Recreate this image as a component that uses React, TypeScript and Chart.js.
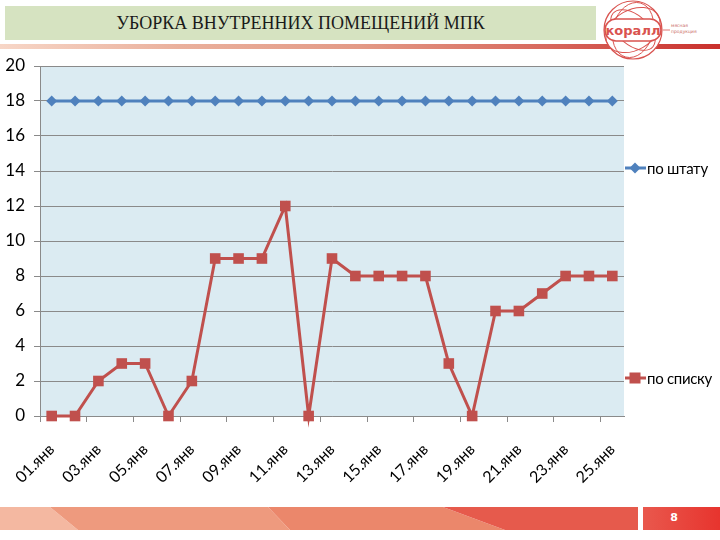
import React, { useEffect, useRef } from "react";
import { Chart, registerables } from "chart.js";

Chart.register(...registerables);

const titleText = "УБОРКА ВНУТРЕННИХ ПОМЕЩЕНИЙ МПК";
const pageNumber = "8";
const categories = [
  "01.янв", "02.янв", "03.янв", "04.янв", "05.янв", "06.янв", "07.янв", "08.янв", "09.янв",
  "10.янв", "11.янв", "12.янв", "13.янв", "14.янв", "15.янв", "16.янв", "17.янв", "18.янв",
  "19.янв", "20.янв", "21.янв", "22.янв", "23.янв", "24.янв", "25.янв",
];
const seriesNames = ["по штату", "по списку"];
const poShtatu = [18, 18, 18, 18, 18, 18, 18, 18, 18, 18, 18, 18, 18, 18, 18, 18, 18, 18, 18, 18, 18, 18, 18, 18, 18];
const poSpisku = [0, 0, 2, 3, 3, 0, 2, 9, 9, 9, 12, 0, 9, 8, 8, 8, 8, 3, 0, 6, 6, 7, 8, 8, 8];
const yMin = 0;
const yMax = 20;
const yStep = 2;

const BLUE = "#4f81bd";
const RED = "#c0504d";
const GRID = "#8a8a8a";
const FONT = "Lato, 'Noto Sans', sans-serif";

const plotBg = {
  id: "plotBg",
  beforeDraw(chart: any) {
    const { ctx, chartArea } = chart;
    ctx.save();
    ctx.fillStyle = "#dbebf2";
    ctx.fillRect(chartArea.left, chartArea.top, chartArea.right - chartArea.left, chartArea.bottom - chartArea.top);
    ctx.restore();
  },
};

export default function App() {
  const ref = useRef<HTMLCanvasElement>(null);

  useEffect(() => {
    const chart = new Chart(ref.current as HTMLCanvasElement, {
      type: "line",
      data: {
        labels: categories,
        datasets: [
          {
            label: seriesNames[0],
            data: poShtatu,
            borderColor: BLUE,
            backgroundColor: BLUE,
            borderWidth: 3,
            pointStyle: "rectRot",
            pointRadius: 5.5,
            pointBorderWidth: 0,
            tension: 0,
            clip: false,
          },
          {
            label: seriesNames[1],
            data: poSpisku,
            borderColor: RED,
            backgroundColor: RED,
            borderWidth: 3,
            pointStyle: "rect",
            pointRadius: 7.5,
            pointBorderWidth: 0,
            tension: 0,
            clip: false,
          },
        ] as any,
      },
      options: {
        animation: false,
        responsive: false,
        layout: { padding: { top: 12, right: 16, left: 0, bottom: 0 } },
        plugins: {
          legend: { display: false },
          tooltip: { enabled: false },
        },
        scales: {
          x: {
            type: "category",
            offset: true,
            grid: {
              offset: true,
              drawOnChartArea: false,
              drawTicks: true,
              tickLength: 6,
              color: (ctx: any) => (ctx.index % 2 === 0 ? GRID : "rgba(0,0,0,0)"),
            },
            border: { color: GRID, width: 1 },
            ticks: {
              autoSkip: false,
              maxRotation: 45,
              minRotation: 45,
              padding: 18,
              color: "#000",
              font: { size: 16, family: FONT },
              callback: (_v: any, i: number) => (i % 2 === 0 ? categories[i] : ""),
            },
            afterFit: (s: any) => {
              s.height = 100;
              s.paddingLeft = 0;
              s.paddingRight = 0;
            },
          },
          y: {
            min: yMin,
            max: yMax,
            grid: { color: GRID, tickLength: 6, lineWidth: 1 },
            border: { color: GRID, width: 1 },
            ticks: {
              stepSize: yStep,
              padding: 9,
              color: "#000",
              font: { size: 17, family: FONT },
            },
            afterFit: (s: any) => {
              s.width = 40;
              s.paddingTop = 0;
              s.paddingBottom = 0;
            },
          },
        },
      } as any,
      plugins: [plotBg],
    });
    return () => chart.destroy();
  }, []);

  const legendRows = [
    { name: seriesNames[0], color: BLUE, top: 158, marker: "diamond" },
    { name: seriesNames[1], color: RED, top: 368, marker: "square" },
  ];

  return (
    <div
      style={{
        position: "absolute",
        left: 0,
        top: 0,
        width: 720,
        height: 540,
        background: "#fff",
        overflow: "hidden",
        fontFamily: FONT,
      }}
    >
      {/* header accent line */}
      <div
        style={{
          position: "absolute",
          left: 0,
          top: 44,
          width: 720,
          height: 5,
          background: "linear-gradient(90deg, #f7d6c7 0%, #eab09c 25%, #e39a86 50%, #d86a5f 75%, #c9302c 100%)",
        }}
      />
      {/* title box */}
      <div
        style={{
          position: "absolute",
          left: 5,
          top: 6,
          width: 591,
          height: 34,
          background: "#d6e3c1",
          display: "flex",
          alignItems: "center",
          justifyContent: "center",
          fontFamily: "'Liberation Serif', 'DejaVu Serif', serif",
          fontSize: 18,
          color: "#1a1a1a",
        }}
      >
        {titleText}
      </div>
      {/* logo */}
      <svg style={{ position: "absolute", left: 596, top: 0 }} width={124} height={62}>
        <circle cx={37} cy={30} r={29} fill="#fff" stroke="#d9534f" strokeWidth={1.2} />
        <ellipse cx={37} cy={30} rx={29} ry={20} fill="none" stroke="#d9534f" strokeWidth={1} transform="rotate(-30 37 30)" />
        <ellipse cx={37} cy={30} rx={26} ry={15} fill="none" stroke="#d9534f" strokeWidth={1} transform="rotate(40 37 30)" />
        <ellipse cx={37} cy={30} rx={20} ry={28} fill="none" stroke="#d9534f" strokeWidth={0.9} transform="rotate(15 37 30)" />
        <rect x={9} y={19} width={56} height={22} rx={11} fill="#fff" stroke="#d9534f" strokeWidth={1.6} />
        <text x={37} y={35} textAnchor="middle" fontFamily="'DejaVu Sans', sans-serif" fontWeight="bold" fontSize={13} fill="#d9534f">
          коралл
        </text>
        <line x1={67} y1={30} x2={74} y2={30} stroke="#d9534f" strokeWidth={0.8} />
        <text x={75} y={27} fontFamily="'DejaVu Sans', sans-serif" fontSize={4.5} fill="#c96a63">
          мясная
        </text>
        <text x={75} y={33} fontFamily="'DejaVu Sans', sans-serif" fontSize={4.5} fill="#c96a63">
          продукция
        </text>
      </svg>

      <canvas
        ref={ref}
        width={640}
        height={462}
        style={{ position: "absolute", left: 0, top: 54, width: 640, height: 462 }}
      />

      {/* legend */}
      {legendRows.map((r) => (
        <div
          key={r.name}
          style={{ position: "absolute", left: 624, top: r.top, height: 20, display: "flex", alignItems: "center" }}
        >
          <svg width={23} height={20}>
            <line x1={1} y1={10} x2={22} y2={10} stroke={r.color} strokeWidth={3} />
            {r.marker === "diamond" ? (
              <polygon points="11,4.5 16.5,10 11,15.5 5.5,10" fill={r.color} />
            ) : (
              <rect x={5.5} y={4.5} width={11} height={11} fill={r.color} />
            )}
          </svg>
          <span style={{ fontSize: 15, color: "#000", whiteSpace: "nowrap", letterSpacing: -0.3 }}>{r.name}</span>
        </div>
      ))}

      {/* footer */}
      <svg style={{ position: "absolute", left: 0, top: 507 }} width={720} height={23}>
        <defs>
          <linearGradient id="pg" x1="0" x2="1" y1="0" y2="0">
            <stop offset="0" stopColor="#e9584d" />
            <stop offset="1" stopColor="#e7342e" />
          </linearGradient>
        </defs>
        <polygon points="0,0 50,0 78,23 0,23" fill="#f4b8a1" />
        <polygon points="50,0 268,0 290,23 78,23" fill="#ee9a7e" />
        <polygon points="268,0 443,0 505,23 290,23" fill="#eb876b" />
        <polygon points="443,0 638,0 638,23 505,23" fill="#e65a4c" />
        <rect x={643} y={0} width={77} height={23} fill="url(#pg)" />
        <text x={674} y={14} textAnchor="middle" fontFamily="'DejaVu Sans', sans-serif" fontWeight="bold" fontSize={11} fill="#fff">
          {pageNumber}
        </text>
      </svg>
    </div>
  );
}
